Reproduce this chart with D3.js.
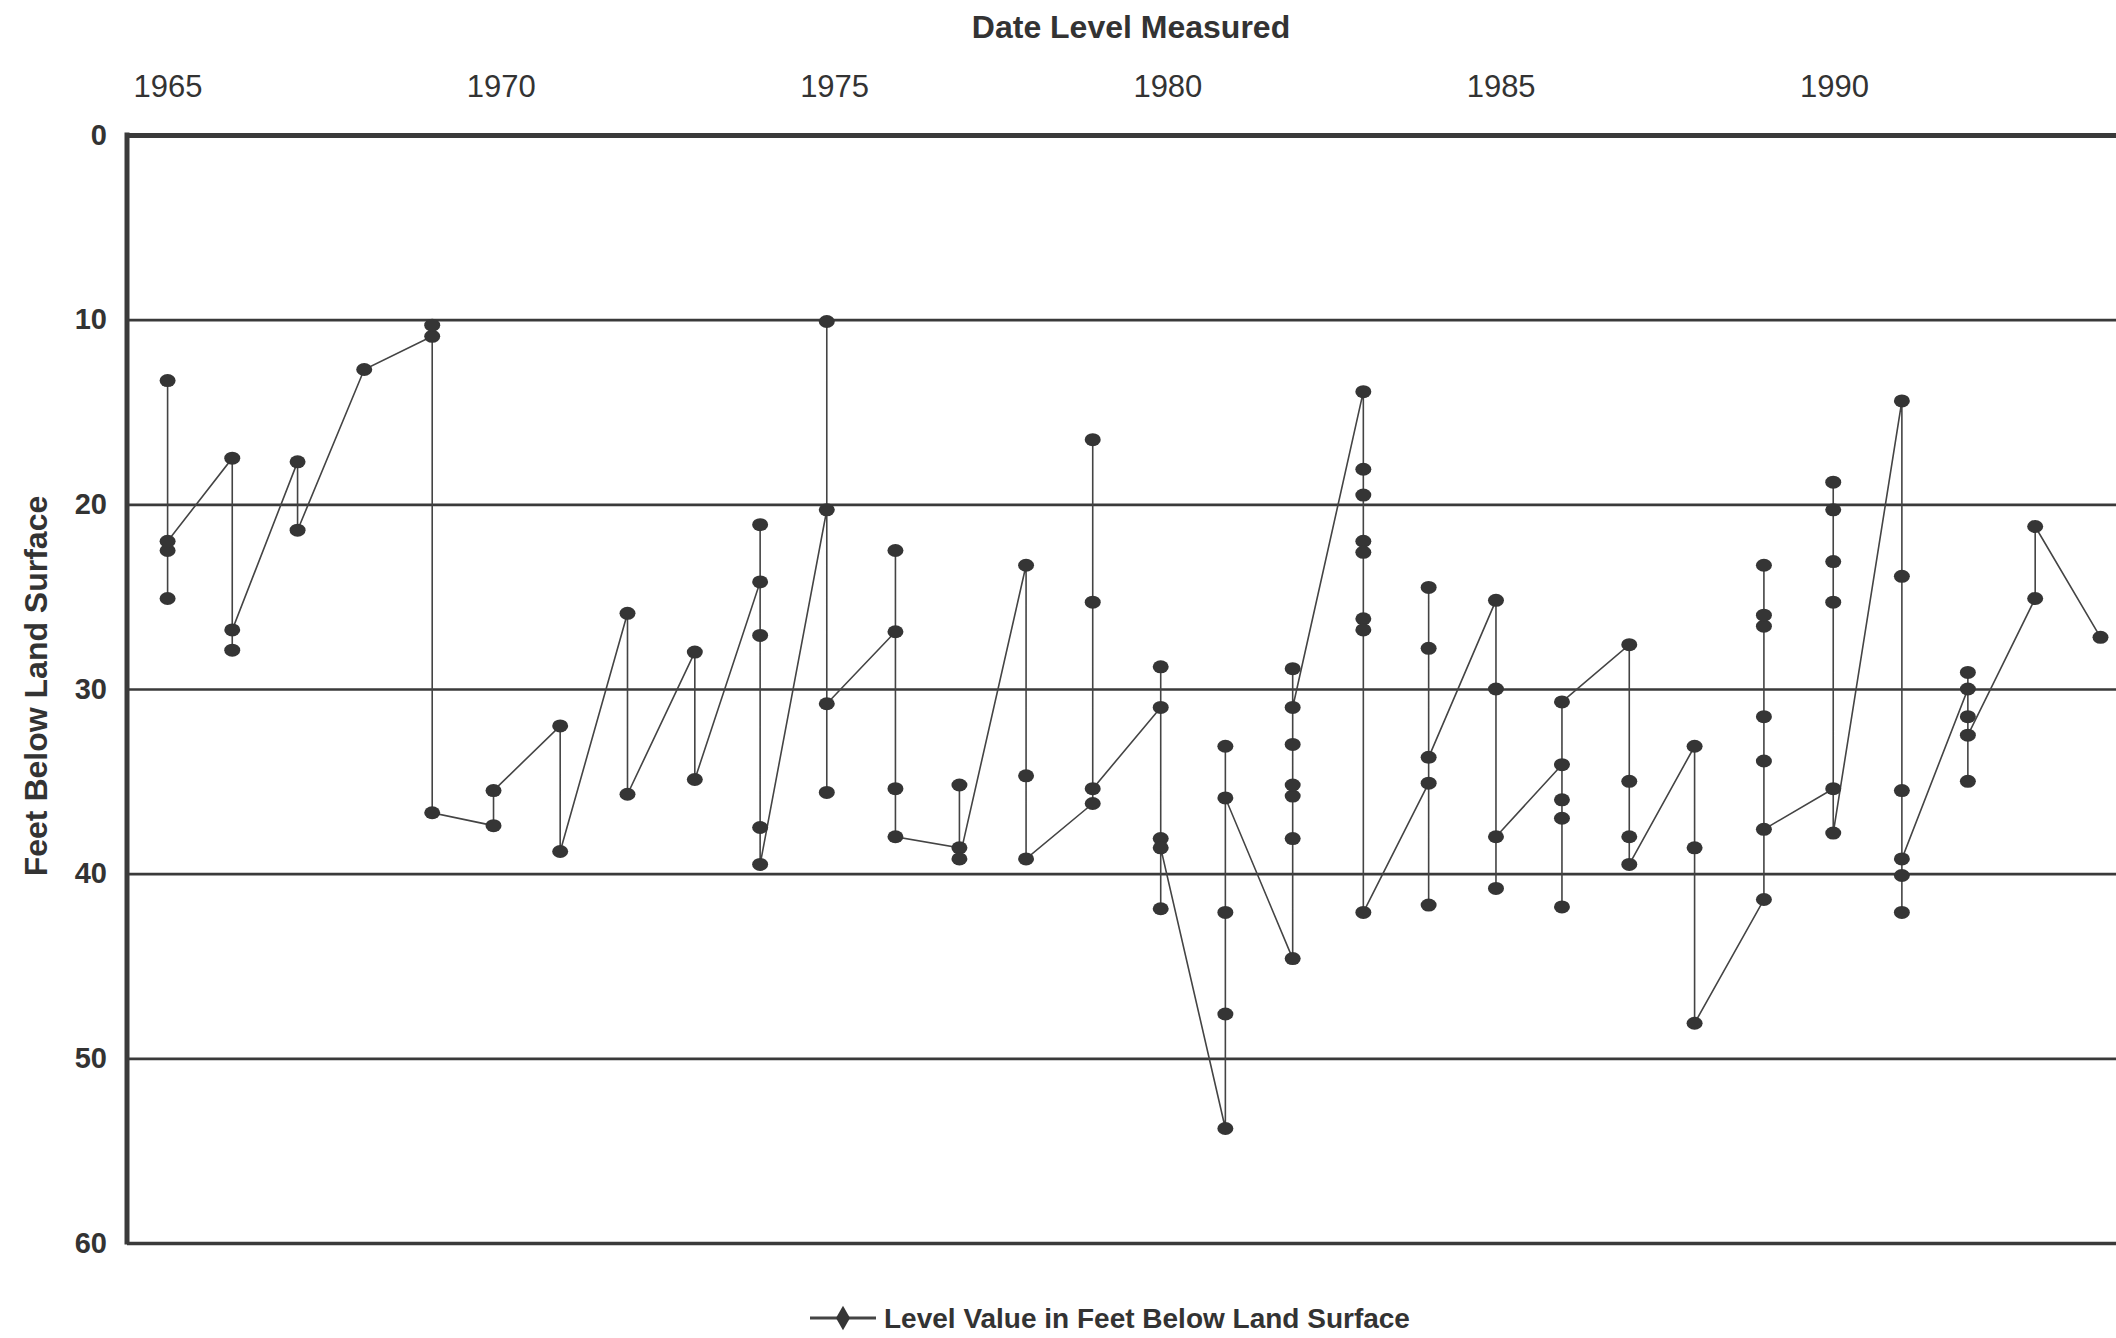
<!DOCTYPE html>
<html>
<head>
<meta charset="utf-8">
<title>Water level</title>
<style>
  body { margin: 0; background: #fff; }
  svg { font-family: "Liberation Sans", Arial, sans-serif; }
  .tick text { fill: #333; }
</style>
</head>
<body>
<script src="https://cdn.jsdelivr.net/npm/d3@7"></script>
<div id="chart"></div>
<script>
// date of each measurement (decimal year), in the order they are joined by the line
var measuredDates = [
  1965.00,1965.00,1965.00,1965.00, 1965.97,1965.97,1965.97, 1966.95,1966.95, 1967.95,
  1968.97,1968.97,1968.97, 1969.89,1969.89, 1970.89,1970.89, 1971.90,1971.90,
  1972.91,1972.91, 1973.89,1973.89,1973.89,1973.89,1973.89,
  1974.89,1974.89,1974.89,1974.89, 1975.92,1975.92,1975.92,1975.92,
  1976.88,1976.88,1976.88, 1977.88,1977.88,1977.88, 1978.88,1978.88,1978.88,1978.88,
  1979.90,1979.90,1979.90,1979.90,1979.90, 1980.87,1980.87,1980.87,1980.87,1980.87,
  1981.88,1981.88,1981.88,1981.88,1981.88,1981.88,1981.88,
  1982.94,1982.94,1982.94,1982.94,1982.94,1982.94,1982.94,1982.94,
  1983.92,1983.92,1983.92,1983.92,1983.92, 1984.93,1984.93,1984.93,1984.93,
  1985.92,1985.92,1985.92,1985.92,1985.92, 1986.93,1986.93,1986.93,1986.93,
  1987.91,1987.91,1987.91, 1988.95,1988.95,1988.95,1988.95,1988.95,1988.95,1988.95,
  1989.99,1989.99,1989.99,1989.99,1989.99,1989.99, 1991.02,1991.02,1991.02,1991.02,1991.02,1991.02,
  1992.01,1992.01,1992.01,1992.01,1992.01, 1993.02,1993.02, 1994.00
];
// feet below land surface
var levelFeet = [
  13.3,25.1,22.5,22.0, 17.5,27.9,26.8, 17.7,21.4, 12.7,
  10.9,10.3,36.7, 37.4,35.5, 32.0,38.8, 25.9,35.7,
  28.0,34.9, 24.2,21.1,27.1,37.5,39.5,
  20.3,10.1,35.6,30.8, 26.9,22.5,35.4,38.0,
  38.6,35.2,39.2, 23.3,34.7,39.2, 36.2,16.5,25.3,35.4,
  31.0,28.8,41.9,38.1,38.6, 53.8,47.6,42.1,33.1,35.9,
  44.6,38.1,35.8,35.2,33.0,28.9,31.0,
  13.9,18.1,19.5,22.0,22.6,26.2,26.8,42.1,
  35.1,41.7,24.5,27.8,33.7, 25.2,30.0,40.8,38.0,
  34.1,36.0,37.0,41.8,30.7, 27.6,35.0,38.0,39.5,
  33.1,38.6,48.1, 41.4,33.9,31.5,26.6,26.0,23.3,37.6,
  35.4,25.3,23.1,20.3,18.8,37.8, 14.4,23.9,35.5,42.1,40.1,39.2,
  30.0,29.1,31.5,35.0,32.5, 25.1,21.2, 27.2
];
var yearTicks = [1965, 1970, 1975, 1980, 1985, 1990];
var depthTicks = [0, 10, 20, 30, 40, 50, 60];

(function() {
  var W = 2116, H = 1338;
  var plotLeft = 127, plotTop = 135, plotBottom = 1243, plotRight = W;

  var svg = d3.select("#chart").append("svg")
    .attr("width", W).attr("height", H);

  var x = d3.scaleLinear().domain([1965, 1994]).range([167.6, 2100.5]);
  var y = d3.scaleLinear().domain([0, 60]).range([plotTop, plotBottom]);

  var data = measuredDates.map(function(t, i) { return {date: t, level: levelFeet[i]}; });

  // grid lines
  svg.append("g")
    .attr("transform", "translate(" + plotLeft + ",0)")
    .call(d3.axisLeft(y).tickValues(depthTicks).tickSize(-(plotRight - plotLeft)).tickFormat(""))
    .call(function(g) { g.select(".domain").remove(); })
    .selectAll("line")
      .attr("stroke", "#3a3a3a")
      .attr("stroke-width", function(d) { return (d === 0) ? 5 : (d === 60 ? 3.5 : 2.6); });

  // left frame
  svg.append("line")
    .attr("x1", plotLeft).attr("x2", plotLeft)
    .attr("y1", plotTop - 2.5).attr("y2", plotBottom + 1.5)
    .attr("stroke", "#3a3a3a").attr("stroke-width", 5);

  // y tick labels
  svg.append("g")
    .attr("transform", "translate(" + (plotLeft - 20) + ",0)")
    .call(d3.axisLeft(y).tickValues(depthTicks).tickSize(0).tickPadding(0))
    .call(function(g) { g.select(".domain").remove(); })
    .selectAll("text")
      .attr("font-size", 29)
      .attr("font-weight", "bold");

  // x tick labels on top
  svg.append("g")
    .attr("transform", "translate(0,97)")
    .call(d3.axisTop(x).tickValues(yearTicks).tickFormat(d3.format("d")).tickSize(0).tickPadding(0))
    .call(function(g) { g.select(".domain").remove(); })
    .selectAll("text")
      .attr("font-size", 31);

  // axis titles
  svg.append("text")
    .attr("x", 1131).attr("y", 38)
    .attr("text-anchor", "middle")
    .attr("font-size", 32).attr("font-weight", "bold").attr("fill", "#333")
    .text("Date Level Measured");

  svg.append("text")
    .attr("transform", "translate(47,686) rotate(-90)")
    .attr("text-anchor", "middle")
    .attr("font-size", 32).attr("font-weight", "bold").attr("fill", "#333")
    .text("Feet Below Land Surface");

  // series line
  var line = d3.line()
    .x(function(d) { return x(d.date); })
    .y(function(d) { return y(d.level); });

  svg.append("path")
    .datum(data)
    .attr("d", line)
    .attr("fill", "none")
    .attr("stroke", "#444")
    .attr("stroke-width", 1.6);

  svg.append("g").selectAll("ellipse")
    .data(data)
    .enter()
    .append("ellipse")
      .attr("cx", function(d) { return x(d.date); })
      .attr("cy", function(d) { return y(d.level); })
      .attr("rx", 8).attr("ry", 6.5)
      .attr("fill", "#353535");

  // legend
  var lg = svg.append("g").attr("transform", "translate(810,1318)");
  lg.append("line")
    .attr("x1", 0).attr("x2", 66).attr("y1", 0).attr("y2", 0)
    .attr("stroke", "#444").attr("stroke-width", 3);
  lg.append("path")
    .attr("d", d3.symbol().type(d3.symbolDiamond).size(170)())
    .attr("transform", "translate(33,0)")
    .attr("fill", "#353535");
  lg.append("text")
    .attr("x", 74).attr("y", 10)
    .attr("font-size", 28).attr("font-weight", "bold").attr("fill", "#333")
    .text("Level Value in Feet Below Land Surface");
})();
</script>
</body>
</html>
